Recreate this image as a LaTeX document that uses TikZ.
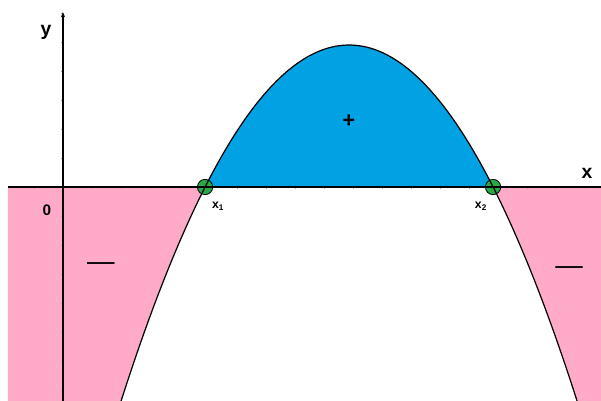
\documentclass[tikz,border=0pt]{standalone}
\usepackage{fontspec}
\setmainfont{Liberation Sans}
\usetikzlibrary{arrows.meta}

\definecolor{pinkreg}{RGB}{255,170,200}
\definecolor{bluereg}{RGB}{0,162,228}
\definecolor{rootgreen}{RGB}{40,170,70}

\begin{document}
\begin{tikzpicture}[x=1cm,y=1cm,
  axis/.style={line width=1.3pt},
  curve/.style={line width=1.2pt},
  root/.style={circle, draw, fill=rootgreen, line width=0.8pt, inner sep=0pt, minimum size=15pt},
  lbl/.style={font=\fontsize{19}{20}\selectfont\bfseries, inner sep=0pt},
  sign/.style={inner sep=0pt}]
  \useasboundingbox (-2.172,-7.379) rectangle (18.552,6.448);
  \clip (-2.172,-7.379) rectangle (18.552,6.448);

  % parabola through the two roots
  \def\fx{0.1986*(\x-4.9)*(14.83-\x)}

  \fill[pinkreg] (-1.897,0) -- (4.9,0) -- plot[domain=4.9:1.9,samples=60] (\x,{\fx}) -- (-1.897,-7.6) -- cycle;
  \fill[pinkreg] (14.83,0) -- (18.7,0) -- (18.7,-7.6) -- plot[domain=17.83:14.83,samples=60] (\x,{\fx}) -- cycle;
  \fill[bluereg] plot[domain=4.9:14.83,samples=100] (\x,{\fx}) -- cycle;

  % ticks
  \foreach \k in {-7,...,-1,1,2,...,6}
    \draw[gray!70, line width=0.5pt] (-0.07,\k) -- (0,\k);
  \foreach \k in {-1,1,2,...,18}
    \draw[gray!70, line width=0.5pt] (\k,0) -- (\k,-0.07);

  \node[root] (r1) at (4.9,0) {};
  \node[root] (r2) at (14.83,0) {};

  \coordinate (xl) at (-1.897,0);
  \coordinate (xr) at (18.7,0);
  \coordinate (yb) at (0,-7.5);
  \coordinate (yt) at (0,6.03);
  \draw[axis] (xl) -- (xr);
  \draw[axis, -{Stealth[length=5pt,width=4pt]}] (yb) -- (yt);

  \draw[curve] plot[domain=1.9:17.83,samples=150] (\x,{\fx});

  \node[lbl] (ylab) at (-0.586,5.345) {y};
  \node[lbl] (xlab) at (18.07,0.483) {x};
  \node[font=\fontsize{15}{15}\selectfont\bfseries, inner sep=0pt] (zero) at (-0.552,-0.793) {0};
  \node[font=\fontsize{12}{12}\selectfont\bfseries, inner sep=0pt] (x1lab) at (5.345,-0.655) {x\textsubscript{1}};
  \node[font=\fontsize{12}{12}\selectfont\bfseries, inner sep=0pt] (x2lab) at (14.41,-0.655) {x\textsubscript{2}};
  \node[sign, font=\fontsize{21}{21}\selectfont\bfseries] (plus) at (9.862,2.276) {+};
  \node[sign, font=\fontsize{27}{27}\selectfont] (minl) at (1.31,-2.76) {—};
  \node[sign, font=\fontsize{27}{27}\selectfont] (minr) at (17.45,-2.897) {—};
\end{tikzpicture}
\end{document}
